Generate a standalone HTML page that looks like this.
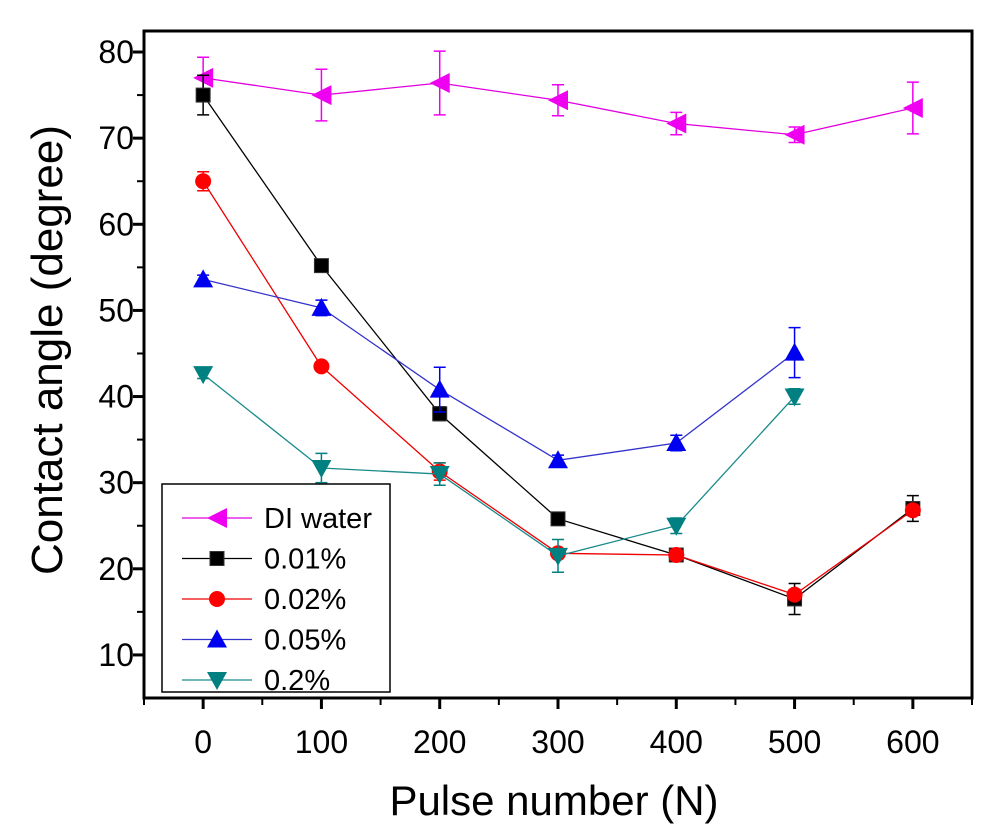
<!DOCTYPE html>
<html><head><meta charset="utf-8"><style>
body{margin:0;background:#fff;}
svg{display:block;font-family:"Liberation Sans",Arial,sans-serif;}
</style></head><body>
<svg id="chart" width="1000" height="831"></svg>
<script>
const xTicks=[0,100,200,300,400,500,600];
const yTicks=[10,20,30,40,50,60,70,80];
const xsAll=[0,100,200,300,400,500,600];
const diWater=[77,75,76.4,74.4,71.7,70.4,73.5];
const diWaterErr=[2.4,3,3.7,1.8,1.3,0.9,3];
const p001=[75,55.2,38,25.8,21.6,16.5,27];
const p001Err=[2.3,0.5,0.8,0.5,0.6,1.8,1.5];
const p002=[65,43.5,31.3,21.8,21.6,17,26.8];
const p002Err=[1.1,0.4,1,0.5,0.6,0.6,0.6];
const p005=[53.6,50.3,40.8,32.6,34.6,45.1];
const p005Err=[0.5,0.9,2.6,0.6,0.9,2.9];
const p02=[42.6,31.7,31,21.5,25,40];
const p02Err=[0.5,1.7,1.3,1.9,0.9,0.9];
const seriesNames=["DI water","0.01%","0.02%","0.05%","0.2%"];

const L=144,R=972,T=31,B=698;
const X=v=>L+(v+50)*(R-L)/700;
const Y=v=>B-(v-5)*8.613;
const NS="http://www.w3.org/2000/svg";
const svg=document.getElementById('chart');
function mk(t,a,p){const e=document.createElementNS(NS,t);for(const k in a)e.setAttribute(k,a[k]);(p||svg).appendChild(e);return e;}

const fr=mk('rect',{x:L,y:T,width:R-L,height:B-T,fill:'none',stroke:'#000','stroke-width':3});


xTicks.forEach(v=>{
  const l=mk('line',{x1:X(v),x2:X(v),y1:B,y2:B+11,stroke:'#000','stroke-width':3});
  
  
  const t=mk('text',{x:X(v),y:B+55,'font-size':32,'text-anchor':'middle'});t.textContent=v;
  
  
});
for(let v=-50;v<=650;v+=100){
  const l=mk('line',{x1:X(v),x2:X(v),y1:B,y2:B+7,stroke:'#000','stroke-width':2});
  
  
}
yTicks.forEach(v=>{
  const l=mk('line',{x1:L-11,x2:L,y1:Y(v),y2:Y(v),stroke:'#000','stroke-width':3});
  
  
  const t=mk('text',{x:L-10,y:Y(v)+11,'font-size':32,'text-anchor':'end'});t.textContent=v;
  
  
});
for(let v=15;v<=80;v+=10){
  const l=mk('line',{x1:L-7,x2:L,y1:Y(v),y2:Y(v),stroke:'#000','stroke-width':2});
  
  
}
const xt=mk('text',{x:554,y:815,'font-size':42,'text-anchor':'middle'});xt.textContent='Pulse number  (N)';


const yt=mk('text',{x:0,y:0,'font-size':44,'text-anchor':'middle',transform:'translate(62,350) rotate(-90)'});yt.textContent='Contact angle (degree)';



function marker(kind,cx,cy,col,g){
  const s=10;
  if(kind==='left')return mk('polygon',{points:`${cx-s},${cy} ${cx+s},${cy-s} ${cx+s},${cy+s}`,fill:col},g);
  if(kind==='sq')return mk('rect',{x:cx-7,y:cy-7,width:14,height:14,fill:col,stroke:'#333'},g);
  if(kind==='circ')return mk('circle',{cx,cy,r:8,fill:col},g);
  if(kind==='up')return mk('polygon',{points:`${cx},${cy-s} ${cx+s},${cy+s*0.8} ${cx-s},${cy+s*0.8}`,fill:col},g);
  return mk('polygon',{points:`${cx},${cy+s} ${cx+s},${cy-s*0.8} ${cx-s},${cy-s*0.8}`,fill:col},g);
}
const specs=[[diWater,diWaterErr,'#f000f0','left','#e000e0'],[p001,p001Err,'#000','sq','#000'],[p002,p002Err,'#f00','circ','#e00'],[p005,p005Err,'#0000f0','up','#33c'],[p02,p02Err,'#008080','down','#1a8a8a']];
const names=['series-di-water','series-0-01','series-0-02','series-0-05','series-0-2'];
specs.forEach((sp,i)=>{
  const [vals,errs,col,kind,lc]=sp;
  const g=mk('g',{});
  
  
  const pts=vals.map((v,j)=>`${X(xsAll[j])},${Y(v)}`).join(' ');
  mk('polyline',{points:pts,fill:'none',stroke:lc,'stroke-width':1.3},g);
  vals.forEach((v,j)=>{
    const x=X(xsAll[j]);
    const eb=mk('path',{d:`M${x},${Y(v-errs[j])}V${Y(v+errs[j])}M${x-6},${Y(v-errs[j])}H${x+6}M${x-6},${Y(v+errs[j])}H${x+6}`,stroke:col,'stroke-width':1.5,fill:'none'},g);
    
    
    const m=marker(kind,x,Y(v),col,g);
    
    
  });
});
const lg=mk('g',{});


mk('rect',{x:162,y:484,width:228,height:208,fill:'#fff',stroke:'#000','stroke-width':1.5},lg);
specs.forEach((sp,i)=>{
  const y=518+i*40.5;
  const e=mk('g',{},lg);
  
  
  mk('line',{x1:182,x2:252,y1:y,y2:y,stroke:sp[4],'stroke-width':1.3},e);
  marker(sp[3],217,y,sp[2],e);
  const t=mk('text',{x:264,y:y+10,'font-size':29},e);t.textContent=seriesNames[i];
});
</script>
</body></html>
